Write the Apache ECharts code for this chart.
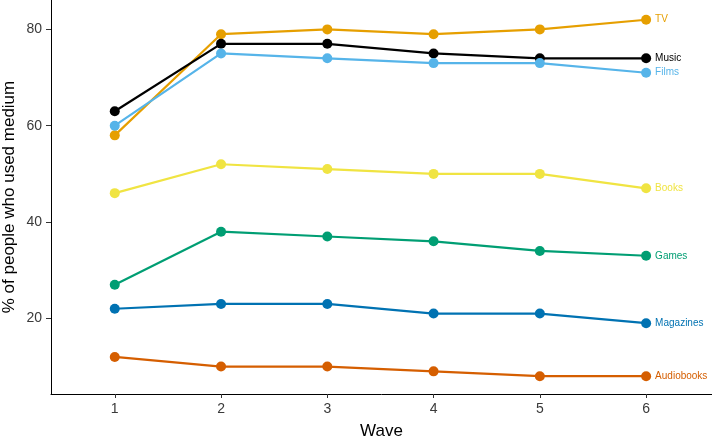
<!DOCTYPE html>
<html>
<head>
<meta charset="utf-8">
<script src="https://cdn.jsdelivr.net/npm/echarts@6/dist/echarts.min.js"></script>
<style>html,body{margin:0;padding:0;background:#fff}#c{width:712px;height:440px}</style>
</head>
<body>
<div id="c"></div>
<script>
const waves = [1, 2, 3, 4, 5, 6];
const yTicks = [20, 40, 60, 80];
const tv = [58, 79, 80, 79, 80, 82];
const music = [63, 77, 77, 75, 74, 74];
const films = [60, 75, 74, 73, 73, 71];
const books = [46, 52, 51, 50, 50, 47];
const games = [27, 38, 37, 36, 34, 33];
const magazines = [22, 23, 23, 21, 21, 19];
const audiobooks = [12, 10, 10, 9, 8, 8];

const seriesDefs = [
  ['TV', tv, '#E69F00'],
  ['Music', music, '#000000'],
  ['Films', films, '#56B4E9'],
  ['Books', books, '#F0E442'],
  ['Games', games, '#009E73'],
  ['Magazines', magazines, '#0072B2'],
  ['Audiobooks', audiobooks, '#D55E00']
];

const chart = echarts.init(document.getElementById('c'), null, {renderer: 'canvas'});
chart.setOption({
  animation: false,
  grid: {left: 51, right: 0, top: 0, bottom: 46, containLabel: false, outerBoundsMode: 'none'},
  xAxis: {
    type: 'value', min: 0.4, max: 6.62,
    name: 'Wave', nameLocation: 'middle', nameGap: 29, nameMoveOverlap: false,
    nameTextStyle: {fontFamily: 'Liberation Sans', fontSize: 17, color: '#000'},
    axisLine: {show: true, lineStyle: {color: '#000', width: 1}},
    axisTick: {show: true, length: 4, lineStyle: {color: '#333'}, customValues: waves},
    axisLabel: {fontFamily: 'Liberation Sans', fontSize: 14, color: '#3a3a3a', margin: 8, customValues: waves},
    splitLine: {show: false}
  },
  yAxis: {
    type: 'value', min: 4.3, max: 86.1,
    name: '% of people who used medium', nameLocation: 'middle', nameGap: 33, nameRotate: 90, nameMoveOverlap: false,
    nameTextStyle: {fontFamily: 'Liberation Sans', fontSize: 17, color: '#000'},
    axisLine: {show: true, lineStyle: {color: '#000', width: 1}},
    axisTick: {show: true, length: 5, lineStyle: {color: '#333'}, customValues: yTicks},
    axisLabel: {fontFamily: 'Liberation Sans', fontSize: 14, color: '#3a3a3a', margin: 9, customValues: yTicks},
    splitLine: {show: false}
  },
  series: seriesDefs.map(([name, vals, color]) => ({
    name: name,
    type: 'line',
    data: waves.map((w, i) => [w, vals[i]]),
    symbol: 'circle',
    symbolSize: 10,
    lineStyle: {color: color, width: 2.2},
    itemStyle: {color: color},
    endLabel: {show: true, formatter: name, color: color, fontFamily: 'Liberation Sans', fontSize: 10, distance: 9}
  }))
});
</script>
</body>
</html>
